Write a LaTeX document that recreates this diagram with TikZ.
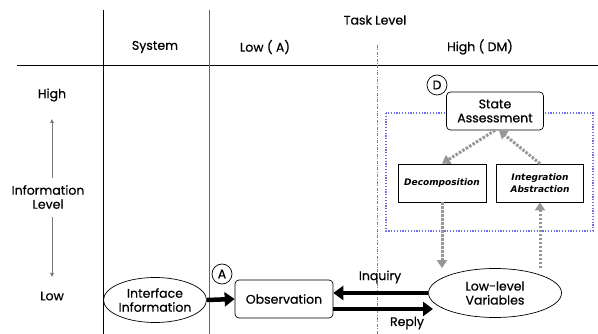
\documentclass[tikz,border=0pt]{standalone}
\usepackage{fontspec}
\setmainfont{Poppins}[FakeBold=0.5]
\newfontfamily\decofont{DejaVu Sans}
\usetikzlibrary{arrows.meta,shapes.geometric}
\definecolor{dotblue}{RGB}{110,110,235}
\definecolor{arrgray}{RGB}{150,150,150}
\begin{document}
\begin{tikzpicture}[x=1pt,y=-1pt, font=\fontsize{12.5}{14}\selectfont,
 lbl/.style={inner sep=0pt, align=center},
 rbox/.style={draw, rounded corners=4pt, minimum width=98pt, minimum height=38pt, align=center, line width=0.7pt, fill=white},
 sbox/.style={draw, minimum width=88pt, minimum height=38pt, align=center, line width=0.7pt, fill=white, font=\decofont\fontsize{9}{11.5}\selectfont\bfseries\itshape},
 ell/.style={draw, ellipse, inner sep=0pt, align=center, line width=0.7pt},
 tag/.style={draw, circle, minimum size=20pt, inner sep=0pt, fill=white, line width=0.7pt},
 bigarrow/.style={line width=4.5pt, -{Triangle[length=10pt,width=14pt]}},
 grayarrow/.style={arrgray, line width=3pt, dash pattern=on 2.5pt off 1.5pt, -{Triangle[length=8pt,width=10pt]}},
 axisarrow/.style={arrgray!80!black, line width=1pt, -{Triangle[length=4pt,width=3.5pt]}}
]
\useasboundingbox (0,0) rectangle (598,334);
% grid lines
\coordinate (hl) at (17,65); \coordinate (hr) at (598,65);
\coordinate (v1t) at (103,10); \coordinate (v1b) at (103,334);
\coordinate (v2t) at (209,10); \coordinate (v2b) at (209,334);
\coordinate (v3t) at (377,45); \coordinate (v3b) at (377,334);
\draw[line width=0.7pt] (hl) -- (hr);
\draw[line width=0.7pt] (v1t) -- (v1b);
\draw[line width=0.7pt, black!60] (v2t) -- (v2b);
\draw[line width=0.8pt, black!50, dash pattern=on 3pt off 1.5pt on 0.8pt off 1.5pt] (v3t) -- (v3b);
% headers
\node[lbl] (task) at (375,20) {Task Level};
\node[lbl] (sys) at (155,47) {System};
\node[lbl] (lowa) at (265,47) {Low ( A)};
\node[lbl] (highdm) at (480,47) {High ( DM)};
% axis
\node[lbl] (high) at (52,95) {High};
\node[lbl] (info) at (48,197) {Information\\Level};
\node[lbl] (low) at (52,296) {Low};
\coordinate (up0) at (52,178); \coordinate (up1) at (52,119);
\coordinate (dn0) at (52,217); \coordinate (dn1) at (52,277);
\draw[axisarrow] (up0) -- (up1);
\draw[axisarrow] (dn0) -- (dn1);
% dotted region
\draw[dotblue, line width=1.6pt, dash pattern=on 1.2pt off 1.6pt] (386,113) rectangle (593,231);
% nodes
\node[ell, minimum width=103pt, minimum height=45pt] (iface) at (155,300) {Interface\\Information};
\node[rbox] (obs) at (284,299) {Observation};
\node[ell, minimum width=133pt, minimum height=49pt] (llv) at (495,293) {Low-level\\Variables};
\node[rbox, minimum width=97pt] (sa) at (495,111) {State\\Assessment};
\node[sbox] (dec) at (442,183) {Decomposition};
\node[sbox, minimum width=87pt] (int) at (540,183) {Integration\\Abstraction};
\node[tag] (ta) at (222,274) {A};
\node[tag] (td) at (437,85) {D};
% connectors
\draw[bigarrow] (llv.west) -- (obs.east |- llv.west);
\draw[bigarrow] (obs.east |- 0,309) -- (433,309);
\draw[bigarrow] (iface.east) -- (obs.west);
\node[lbl] (inq) at (380,277) {Inquiry};
\node[lbl] (rep) at (407,323) {Reply};
\draw[grayarrow] (sa.south) -- (dec.north);
\draw[grayarrow] (int.north) -- ([xshift=4pt]sa.south);
\draw[grayarrow] (dec.south) -- (dec.south |- llv.north);
\draw[grayarrow] (int.south |- llv.north) -- (int.south);
\end{tikzpicture}
\end{document}
